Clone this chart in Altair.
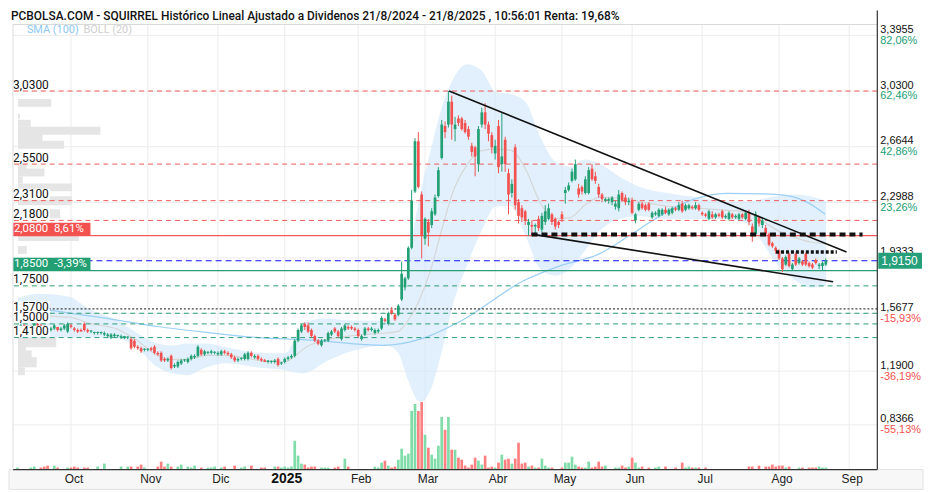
import altair as alt
import pandas as pd

# ---------------- daily candles (open, high, low, close); day 0 = 1-Oct-2024 ----------------
FIRST_DAY = -16
ohlc_sep = [
    (1.47, 1.49, 1.46, 1.48), (1.48, 1.50, 1.47, 1.49), (1.49, 1.50, 1.47, 1.48), (1.48, 1.49, 1.46, 1.47),
    (1.47, 1.49, 1.46, 1.48), (1.48, 1.51, 1.47, 1.50), (1.50, 1.51, 1.48, 1.49), (1.49, 1.50, 1.47, 1.48),
    (1.48, 1.49, 1.46, 1.47), (1.47, 1.48, 1.45, 1.46), (1.46, 1.48, 1.45, 1.47), (1.47, 1.50, 1.46, 1.49),
    (1.48, 1.48, 1.45, 1.46), (1.46, 1.48, 1.45, 1.47), (1.47, 1.50, 1.46, 1.49), (1.45, 1.51, 1.44, 1.50)]
ohlc_oct = [
    (1.49, 1.50, 1.47, 1.48), (1.47, 1.48, 1.45, 1.46), (1.46, 1.47, 1.44, 1.45), (1.46, 1.47, 1.45, 1.45),
    (1.50, 1.51, 1.45, 1.46), (1.46, 1.47, 1.44, 1.45), (1.45, 1.46, 1.44, 1.45), (1.44, 1.45, 1.43, 1.44),
    (1.44, 1.45, 1.43, 1.44), (1.44, 1.45, 1.43, 1.44), (1.43, 1.45, 1.42, 1.44), (1.42, 1.44, 1.41, 1.43),
    (1.41, 1.44, 1.40, 1.43), (1.42, 1.44, 1.41, 1.43), (1.42, 1.43, 1.41, 1.42), (1.41, 1.43, 1.40, 1.42),
    (1.41, 1.42, 1.40, 1.42), (1.41, 1.42, 1.40, 1.41), (1.40, 1.41, 1.33, 1.34), (1.39, 1.40, 1.34, 1.35),
    (1.35, 1.36, 1.33, 1.34), (1.34, 1.35, 1.31, 1.32), (1.33, 1.34, 1.32, 1.33)]
ohlc_nov = [
    (1.33, 1.34, 1.32, 1.33), (1.34, 1.35, 1.32, 1.33), (1.35, 1.36, 1.30, 1.31), (1.31, 1.32, 1.29, 1.30),
    (1.31, 1.32, 1.25, 1.26), (1.27, 1.28, 1.25, 1.26), (1.26, 1.28, 1.25, 1.27), (1.29, 1.30, 1.20, 1.21),
    (1.22, 1.24, 1.21, 1.23), (1.22, 1.26, 1.21, 1.25), (1.24, 1.27, 1.23, 1.26), (1.26, 1.27, 1.25, 1.26),
    (1.25, 1.28, 1.24, 1.27), (1.27, 1.30, 1.26, 1.29), (1.28, 1.30, 1.27, 1.29), (1.29, 1.36, 1.28, 1.35),
    (1.33, 1.34, 1.29, 1.30), (1.30, 1.33, 1.29, 1.32), (1.31, 1.32, 1.30, 1.31), (1.31, 1.33, 1.30, 1.32),
    (1.31, 1.32, 1.30, 1.31)]
ohlc_dec = [
    (1.30, 1.32, 1.29, 1.31), (1.30, 1.33, 1.29, 1.32), (1.32, 1.33, 1.30, 1.31), (1.31, 1.32, 1.29, 1.30),
    (1.30, 1.31, 1.27, 1.28), (1.28, 1.29, 1.25, 1.26), (1.26, 1.28, 1.25, 1.27), (1.27, 1.28, 1.26, 1.27),
    (1.27, 1.31, 1.26, 1.30), (1.27, 1.32, 1.26, 1.31), (1.31, 1.32, 1.28, 1.29), (1.28, 1.30, 1.27, 1.29),
    (1.29, 1.30, 1.26, 1.27), (1.27, 1.28, 1.25, 1.26), (1.26, 1.27, 1.25, 1.25), (1.25, 1.26, 1.24, 1.26),
    (1.25, 1.26, 1.24, 1.25), (1.25, 1.27, 1.24, 1.26), (1.27, 1.28, 1.22, 1.23), (1.24, 1.25, 1.23, 1.24)]
ohlc_jan = [
    (1.25, 1.28, 1.24, 1.27), (1.27, 1.29, 1.26, 1.28), (1.28, 1.30, 1.27, 1.29), (1.29, 1.40, 1.28, 1.39),
    (1.39, 1.47, 1.38, 1.46), (1.45, 1.50, 1.44, 1.49), (1.50, 1.51, 1.46, 1.48), (1.49, 1.51, 1.44, 1.45),
    (1.46, 1.47, 1.41, 1.42), (1.42, 1.43, 1.38, 1.39), (1.39, 1.40, 1.36, 1.37), (1.36, 1.40, 1.35, 1.39),
    (1.39, 1.40, 1.38, 1.39), (1.39, 1.45, 1.38, 1.44), (1.43, 1.46, 1.42, 1.45), (1.47, 1.48, 1.44, 1.45),
    (1.45, 1.46, 1.41, 1.42), (1.40, 1.48, 1.39, 1.47), (1.46, 1.50, 1.45, 1.49), (1.48, 1.49, 1.46, 1.47),
    (1.48, 1.49, 1.46, 1.47), (1.47, 1.48, 1.45, 1.46)]
ohlc_feb = [
    (1.46, 1.47, 1.41, 1.42), (1.40, 1.43, 1.39, 1.42), (1.43, 1.48, 1.42, 1.47), (1.47, 1.48, 1.45, 1.46),
    (1.46, 1.48, 1.45, 1.47), (1.44, 1.47, 1.43, 1.46), (1.45, 1.47, 1.44, 1.46), (1.47, 1.55, 1.46, 1.54),
    (1.53, 1.54, 1.51, 1.52), (1.50, 1.58, 1.49, 1.57), (1.59, 1.61, 1.56, 1.57), (1.56, 1.57, 1.52, 1.53),
    (1.56, 1.63, 1.55, 1.62), (1.66, 1.91, 1.65, 1.83), (1.74, 1.81, 1.72, 1.80), (1.80, 2.01, 1.79, 2.00),
    (2.00, 2.38, 1.99, 2.31), (2.37, 2.72, 2.36, 2.70), (2.70, 2.76, 2.39, 2.40), (2.35, 2.37, 1.93, 2.08)]
ohlc_mar = [
    (2.06, 2.20, 2.02, 2.19), (2.17, 2.19, 2.01, 2.10), (2.15, 2.26, 2.13, 2.24), (2.22, 2.35, 2.21, 2.33),
    (2.34, 2.53, 2.33, 2.51), (2.59, 2.84, 2.58, 2.81), (2.80, 2.83, 2.72, 2.76), (2.81, 3.03, 2.79, 2.96),
    (2.96, 3.00, 2.71, 2.81), (2.78, 2.86, 2.70, 2.81), (2.85, 2.87, 2.80, 2.82), (2.85, 2.86, 2.77, 2.78),
    (2.82, 2.84, 2.75, 2.76), (2.78, 2.80, 2.71, 2.73), (2.67, 2.69, 2.60, 2.63), (2.66, 2.67, 2.47, 2.60),
    (2.55, 2.80, 2.50, 2.78), (2.81, 2.92, 2.79, 2.89), (2.89, 2.95, 2.78, 2.81), (2.81, 2.83, 2.70, 2.75),
    (2.74, 2.76, 2.62, 2.66)]
ohlc_apr = [
    (2.62, 2.71, 2.58, 2.67), (2.80, 2.84, 2.49, 2.53), (2.55, 2.89, 2.50, 2.60), (2.71, 2.73, 2.50, 2.55),
    (2.49, 2.52, 2.22, 2.35), (2.36, 2.45, 2.33, 2.42), (2.66, 2.68, 2.25, 2.28), (2.30, 2.32, 2.16, 2.21),
    (2.26, 2.28, 2.17, 2.20), (2.24, 2.25, 2.15, 2.18), (2.15, 2.19, 2.08, 2.17), (2.15, 2.18, 2.08, 2.14),
    (2.14, 2.16, 2.09, 2.15), (2.19, 2.21, 2.11, 2.13), (2.12, 2.23, 2.10, 2.21), (2.17, 2.28, 2.15, 2.24),
    (2.19, 2.29, 2.18, 2.26), (2.22, 2.23, 2.15, 2.17), (2.19, 2.20, 2.12, 2.14), (2.17, 2.18, 2.13, 2.15)]
ohlc_may = [
    (2.22, 2.24, 2.17, 2.19), (2.36, 2.40, 2.29, 2.38), (2.38, 2.43, 2.37, 2.41), (2.44, 2.52, 2.43, 2.50),
    (2.45, 2.58, 2.44, 2.55), (2.39, 2.42, 2.33, 2.35), (2.40, 2.41, 2.35, 2.37), (2.36, 2.47, 2.35, 2.45),
    (2.36, 2.53, 2.35, 2.51), (2.52, 2.55, 2.44, 2.45), (2.47, 2.50, 2.42, 2.44), (2.40, 2.42, 2.33, 2.35),
    (2.35, 2.36, 2.30, 2.32), (2.31, 2.33, 2.30, 2.32), (2.31, 2.33, 2.29, 2.32), (2.30, 2.34, 2.28, 2.33),
    (2.27, 2.31, 2.25, 2.29), (2.26, 2.38, 2.24, 2.35), (2.36, 2.37, 2.30, 2.31), (2.33, 2.35, 2.28, 2.30),
    (2.30, 2.33, 2.28, 2.31)]
ohlc_jun = [
    (2.31, 2.33, 2.22, 2.23), (2.18, 2.23, 2.16, 2.22), (2.25, 2.30, 2.24, 2.29), (2.29, 2.30, 2.25, 2.26),
    (2.28, 2.29, 2.24, 2.25), (2.29, 2.30, 2.24, 2.25), (2.20, 2.24, 2.19, 2.23), (2.22, 2.24, 2.21, 2.23),
    (2.21, 2.26, 2.20, 2.25), (2.22, 2.26, 2.21, 2.25), (2.25, 2.27, 2.22, 2.23), (2.22, 2.26, 2.21, 2.25),
    (2.23, 2.27, 2.22, 2.26), (2.26, 2.27, 2.24, 2.25), (2.25, 2.30, 2.24, 2.28), (2.29, 2.31, 2.23, 2.24),
    (2.25, 2.29, 2.24, 2.28), (2.26, 2.29, 2.25, 2.28), (2.27, 2.28, 2.25, 2.26), (2.26, 2.30, 2.25, 2.28),
    (2.28, 2.29, 2.24, 2.25)]
ohlc_jul = [
    (2.23, 2.24, 2.21, 2.22), (2.22, 2.23, 2.20, 2.21), (2.19, 2.25, 2.18, 2.24), (2.22, 2.24, 2.19, 2.20),
    (2.20, 2.23, 2.19, 2.22), (2.22, 2.23, 2.20, 2.21), (2.24, 2.25, 2.19, 2.20), (2.20, 2.22, 2.19, 2.21),
    (2.19, 2.24, 2.18, 2.23), (2.22, 2.23, 2.19, 2.20), (2.20, 2.22, 2.19, 2.21), (2.19, 2.23, 2.18, 2.22),
    (2.22, 2.23, 2.19, 2.20), (2.19, 2.24, 2.18, 2.23), (2.23, 2.25, 2.15, 2.17), (2.14, 2.16, 2.04, 2.08),
    (2.09, 2.24, 2.08, 2.22), (2.20, 2.21, 2.14, 2.16), (2.15, 2.20, 2.13, 2.18), (2.13, 2.15, 2.08, 2.09),
    (2.09, 2.10, 2.01, 2.02), (2.03, 2.04, 2.00, 2.01), (2.00, 2.01, 1.96, 1.98)]
ohlc_aug = [
    (1.98, 1.99, 1.92, 1.93), (1.93, 1.94, 1.84, 1.86), (1.89, 1.95, 1.88, 1.94), (1.96, 1.97, 1.87, 1.88),
    (1.86, 1.90, 1.85, 1.89), (1.96, 1.97, 1.88, 1.89), (1.90, 1.94, 1.89, 1.93), (1.91, 1.92, 1.88, 1.89),
    (1.96, 1.97, 1.88, 1.89), (1.90, 1.91, 1.87, 1.88), (1.89, 1.90, 1.86, 1.87), (1.92, 1.93, 1.89, 1.90),
    (1.88, 1.90, 1.86, 1.89), (1.88, 1.91, 1.85, 1.90), (1.89, 1.93, 1.88, 1.915)]

# ---------------- daily volume (relative units) ----------------
vol_sep = [2, 0, 0, 0, 2, 3, 0, 2, 3, 4, 0, 4, 2, 0, 0, 2]
vol_oct = [2, 3, 2, 0, 2, 2, 0, 0, 3, 0, 6, 0, 0, 0, 0, 3, 0, 3, 3, 0, 3, 5, 2]
vol_nov = [0, 0, 0, 3, 8, 3, 6, 3, 0, 3, 5, 0, 3, 2, 4, 0, 2, 0, 2, 2, 3]
vol_dec = [0, 2, 3, 0, 0, 4, 0, 2, 3, 0, 4, 0, 0, 2, 2, 0, 0, 3, 3, 2]
vol_jan = [3, 2, 3, 29, 14, 6, 5, 2, 3, 3, 0, 2, 2, 2, 0, 2, 3, 0, 11, 3, 0, 0]
vol_feb = [0, 0, 0, 0, 0, 3, 2, 7, 9, 4, 2, 3, 10, 21, 14, 16, 59, 66, 59, 68]
vol_mar = [35, 22, 15, 11, 24, 53, 40, 53, 20, 20, 12, 10, 4, 2, 5, 12, 9, 5, 14, 2, 3]
vol_apr = [2, 7, 15, 10, 11, 6, 11, 27, 6, 7, 3, 4, 2, 2, 11, 4, 2, 2, 0, 0]
vol_may = [2, 7, 7, 13, 5, 3, 2, 2, 8, 2, 3, 8, 3, 4, 0, 0, 2, 2, 4, 2, 3]
vol_jun = [12, 7, 2, 3, 0, 2, 0, 2, 3, 0, 3, 0, 0, 2, 0, 7, 2, 3, 2, 2, 2]
vol_jul = [0, 2, 0, 0, 0, 0, 0, 0, 0, 0, 0, 0, 0, 0, 3, 3, 0, 4, 0, 3, 3, 5, 3]
vol_aug = [4, 4, 2, 3, 0, 0, 2, 2, 0, 2, 2, 2, 3, 2, 2]

# ---------------- indicators ----------------
boll_day = [-15.9, -9.4, -0.6, 5.3, 14.1, 20.0, 25.9, 30.3, 34.7, 40.6, 46.5, 55.3, 64.1, 67.0, 70.0,
            75.9, 84.7, 94.4, 97.9, 100.9, 104.4, 107.6, 111.1, 114.7, 118.5, 122.9, 127.3, 131.7,
            136.1, 140.5, 145.0, 149.4, 153.8, 158.2, 164.1, 170.0, 178.8, 187.6, 196.4, 202.3,
            206.7, 211.1, 217.0, 221.4, 226.1]
boll_upper = [1.672, 1.698, 1.679, 1.600, 1.522, 1.437, 1.372, 1.359, 1.372, 1.372, 1.346, 1.313, 1.307,
              1.392, 1.509, 1.535, 1.522, 1.522, 1.587, 1.914, 2.338, 2.632, 2.926, 3.121, 3.206, 3.167,
              3.023, 3.010, 2.958, 2.730, 2.567, 2.534, 2.580, 2.554, 2.469, 2.403, 2.358, 2.332, 2.305,
              2.305, 2.319, 2.338, 2.351, 2.338, 2.305]
boll_lower = [1.392, 1.405, 1.411, 1.411, 1.405, 1.339, 1.215, 1.176, 1.163, 1.215, 1.241, 1.215, 1.196,
              1.183, 1.176, 1.248, 1.326, 1.359, 1.313, 1.131, 0.987, 1.065, 1.326, 1.653, 1.881, 2.110,
              2.273, 2.273, 2.077, 1.862, 1.816, 1.862, 1.979, 2.110, 2.188, 2.208, 2.188, 2.188, 2.188,
              2.162, 2.044, 1.901, 1.783, 1.738, 1.751]
sma_day = [-15.9, -5.6, 11.2, 25.9, 40.6, 55.3, 72.9, 93.5, 105.3, 117.0, 135.5, 146.4, 158.2, 167.0,
           173.8, 184.7, 196.4, 211.1, 219.9, 225.8]
sma_100 = [1.620, 1.587, 1.535, 1.483, 1.444, 1.411, 1.392, 1.359, 1.405, 1.522, 1.783, 1.881, 1.960,
           2.077, 2.175, 2.305, 2.358, 2.351, 2.305, 2.221]

# volume-at-price profile (left edge)
profile_high = [2.978, 2.880, 2.841, 2.795, 2.749, 2.704, 2.553, 2.521, 2.469, 2.423, 2.338, 2.253,
                2.077, 2.012, 1.411, 1.372, 1.326, 1.281, 1.215]
profile_low = [2.926, 2.847, 2.795, 2.743, 2.697, 2.651, 2.514, 2.469, 2.423, 2.371, 2.279, 2.195,
               2.044, 1.960, 1.346, 1.313, 1.274, 1.215, 1.163]
profile_vol = [34, 2, 13, 84, 25, 47, 9, 27, 5, 55, 55, 43, 62, 9, 39, 8, 14, 19, 7]

# price levels
red_dashed = [3.03, 2.55, 2.31, 2.18]
red_solid = [2.08]
blue_dashed = [1.915]
green_solid = [1.85]
green_dashed = [1.75, 1.57, 1.50, 1.41]
black_dotted = [1.5986]
left_levels = [3.03, 2.55, 2.31, 2.18, 1.75, 1.57, 1.50, 1.41]
left_texts = ["3,0300", "2,5500", "2,3100", "2,1800", "1,7500", "1,5700", "1,5000", "1,4100"]

# trend lines (day, price) -> (day, price)
trend_d1 = [113.2, 137.9]
trend_p1 = [3.03, 2.09]
trend_d2 = [232.2, 228.2]
trend_p2 = [1.9726, 1.777]

# right axis
right_vals = [3.3955, 3.0300, 2.6644, 2.2988, 1.9333, 1.5677, 1.1900, 0.8366]
right_txt = ["3,3955", "3,0300", "2,6644", "2,2988", "1,9333", "1,5677", "1,1900", "0,8366"]
right_pct = ["82,06%", "62,46%", "42,86%", "23,26%", "", "-15,93%", "-36,19%", "-55,13%"]

month_days = [0, 23, 44, 64, 86, 106, 127, 147, 168, 189, 212, 233]
month_names = ["Oct", "Nov", "Dic", "2025", "Feb", "Mar", "Abr", "May", "Jun", "Jul", "Ago", "Sep"]

TITLE = ("PCBOLSA.COM - SQUIRREL Histórico Lineal Ajustado a Dividenos 21/8/2024 - 21/8/2025 , "
         "10:56:01 Renta: 19,68%")

# ---------------- layout ----------------
W, H = 870, 462
X_LEFT, X_RIGHT = -15.88, 239.93
P_BOTTOM, P_TOP = 0.5431, 3.5587
PXP = H / (P_TOP - P_BOTTOM)     # pixels per price unit
PXD = W / (X_RIGHT - X_LEFT)     # pixels per trading day

GREEN = "#22a074"
RED = "#f3514f"
FONT = "Liberation Sans"
FONT2 = "Roboto"

xs = alt.Scale(domain=[X_LEFT, X_RIGHT], nice=False, zero=False)
ys = alt.Scale(domain=[P_BOTTOM, P_TOP], nice=False, zero=False)


def X(f):
    return alt.X(f, type="quantitative", scale=xs, axis=None)


def Y(f):
    return alt.Y(f, type="quantitative", scale=ys, axis=None)


ohlc = (ohlc_sep + ohlc_oct + ohlc_nov + ohlc_dec + ohlc_jan + ohlc_feb + ohlc_mar + ohlc_apr
        + ohlc_may + ohlc_jun + ohlc_jul + ohlc_aug)
vols = (vol_sep + vol_oct + vol_nov + vol_dec + vol_jan + vol_feb + vol_mar + vol_apr
        + vol_may + vol_jun + vol_jul + vol_aug)
candles = pd.DataFrame({
    "day": list(range(FIRST_DAY, FIRST_DAY + len(ohlc))),
    "open": [r[0] for r in ohlc],
    "high": [r[1] for r in ohlc],
    "low": [r[2] for r in ohlc],
    "close": [r[3] for r in ohlc],
    "vol": vols,
})

one = pd.DataFrame({"k": [0]})
layers = []

# grid
layers.append(alt.Chart(pd.DataFrame({"day": month_days})).mark_rule(color="#ececec").encode(x=X("day")))
layers.append(alt.Chart(pd.DataFrame({"p": right_vals})).mark_rule(color="#ececec").encode(y=Y("p")))

# bollinger band + middle + sma
boll = alt.Chart(pd.DataFrame({"day": boll_day, "upper": boll_upper, "lower": boll_lower}))
layers.append(boll.mark_area(color="#cfe7fa", opacity=0.62, interpolate="monotone").encode(
    x=X("day"), y=Y("upper"), y2="lower"))
layers.append(boll.transform_calculate(mid="(datum.upper + datum.lower) / 2").mark_line(
    color="#d6d6d6", strokeWidth=1.2, interpolate="monotone").encode(x=X("day"), y=Y("mid")))
layers.append(alt.Chart(pd.DataFrame({"day": sma_day, "sma": sma_100})).mark_line(
    color="#9ccff5", strokeWidth=1.2, interpolate="monotone").encode(x=X("day"), y=Y("sma")))

# volume profile
layers.append(alt.Chart(pd.DataFrame({"ph": profile_high, "pl": profile_low, "v": profile_vol}))
              .transform_calculate(x0=str(X_LEFT), x1=f"{X_LEFT} + datum.v / {PXD}")
              .mark_rect(color="#e5e5e5").encode(x=X("x0"), x2="x1:Q", y=Y("pl"), y2="ph"))

# volume bars
vbase = alt.Chart(candles).transform_calculate(v0=str(P_BOTTOM), v1=f"{P_BOTTOM} + datum.vol / {PXP}")
layers.append(vbase.transform_filter("datum.close >= datum.open").mark_bar(size=2.7, color="#80dca9")
              .encode(x=X("day"), y=Y("v0:Q"), y2="v1:Q"))
layers.append(vbase.transform_filter("datum.close < datum.open").mark_bar(size=2.7, color="#ff8080")
              .encode(x=X("day"), y=Y("v0:Q"), y2="v1:Q"))


def hlines(vals, color, width=1.0, dash=None):
    kw = dict(color=color, strokeWidth=width)
    if dash:
        kw["strokeDash"] = dash
    return alt.Chart(pd.DataFrame({"p": vals})).mark_rule(**kw).encode(y=Y("p"))


layers.append(hlines(red_dashed, "#f25a5a", 1, [5, 4]))
layers.append(hlines(red_solid, "#f25a5a", 1.3))
layers.append(hlines(green_dashed, "#2a9d74", 1, [5, 4]))
layers.append(hlines(green_solid, "#2a9d74", 1.3))
layers.append(hlines(blue_dashed, "#1010ff", 1.2, [6, 4]))
layers.append(hlines(black_dotted, "#111111", 1, [2, 2]))

# candles
cb = alt.Chart(candles).transform_calculate(
    body_end="abs(datum.close - datum.open) < 0.006 ? datum.open + 0.007 : datum.close")
for cond, col in (("datum.close >= datum.open", GREEN), ("datum.close < datum.open", RED)):
    layers.append(cb.transform_filter(cond).mark_rule(color=col, strokeWidth=1).encode(
        x=X("day"), y=Y("low"), y2="high"))
    layers.append(cb.transform_filter(cond).mark_bar(size=2.7, color=col).encode(
        x=X("day"), y=Y("open"), y2="body_end:Q"))

# trend lines and drawn levels
layers.append(alt.Chart(pd.DataFrame({"d1": trend_d1, "p1": trend_p1, "d2": trend_d2, "p2": trend_p2}))
              .mark_rule(color="#111111", strokeWidth=1.6)
              .encode(x=X("d1"), y=Y("p1"), x2="d2", y2="p2"))
layers.append(alt.Chart(pd.DataFrame({"d1": [137.9], "d2": [237.0], "p": [2.087]}))
              .mark_rule(color="#111111", strokeWidth=4, strokeDash=[6, 4])
              .encode(x=X("d1"), x2="d2", y=Y("p")))
layers.append(alt.Chart(pd.DataFrame({"d1": [211.1], "d2": [229.3], "p": [1.973]}))
              .mark_rule(color="#111111", strokeWidth=3.5, strokeDash=[3, 2])
              .encode(x=X("d1"), x2="d2", y=Y("p")))

# title band
layers.append(alt.Chart(one).mark_rect(color="white").encode(
    x=alt.value(0), x2=alt.value(W), y=alt.value(0), y2=alt.value(14)))
layers.append(alt.Chart(one).mark_rule(color="#d8d8d8").encode(
    x=alt.value(0), x2=alt.value(W), y=alt.value(14)))
layers.append(alt.Chart(pd.DataFrame({"t": [TITLE]})).mark_text(
    align="left", baseline="top", font=FONT2, fontSize=12, fontWeight=500, color="#111111").encode(
    x=alt.value(-2), y=alt.value(0), text="t:N"))
layers.append(alt.Chart(pd.DataFrame({"t": ["SMA (100)"]})).mark_text(
    align="left", baseline="middle", font=FONT2, fontSize=11, color="#8ec8f2").encode(
    x=alt.value(14), y=alt.value(20), text="t:N"))
layers.append(alt.Chart(pd.DataFrame({"t": ["BOLL (20)"]})).mark_text(
    align="left", baseline="middle", font=FONT2, fontSize=11, color="#cfcfcf").encode(
    x=alt.value(71), y=alt.value(20), text="t:N"))

# left level labels
lab = alt.Chart(pd.DataFrame({"p": left_levels, "t": left_texts})).transform_calculate(
    top=f"datum.p + 12 / {PXP}", bot=f"datum.p + 1 / {PXP}")
layers.append(lab.mark_rect(color="white").encode(x=alt.value(0), x2=alt.value(37), y=Y("top:Q"), y2="bot:Q"))
layers.append(lab.mark_text(align="left", baseline="middle", font=FONT2, fontSize=12, dy=-6.5,
                            color="#111111").encode(x=alt.value(0), y=Y("p"), text="t:N"))

tag = alt.Chart(pd.DataFrame({"p": [2.08, 1.85], "t": ["2,0800\u00a0\u00a08,61%", "1,8500\u00a0\u00a0-3,39%"],
                              "c": [RED, GREEN]})).transform_calculate(
    top=f"datum.p + 13 / {PXP}", bot="datum.p")
layers.append(tag.mark_rect().encode(x=alt.value(0), x2=alt.value(78), y=Y("top:Q"), y2="bot:Q",
                                     color=alt.Color("c:N", scale=None)))
layers.append(tag.mark_text(align="left", baseline="middle", font=FONT2, fontSize=11.5, dy=-6.5,
                            color="white").encode(x=alt.value(1), y=Y("p"), text="t:N"))

# right axis labels
ra = alt.Chart(pd.DataFrame({"p": right_vals, "t": right_txt, "pc": right_pct,
                             "c": [GREEN] * 4 + [GREEN] + [RED] * 3}))
layers.append(ra.mark_text(align="left", baseline="middle", font=FONT, fontSize=11, dy=-5.5,
                           color="#111111").encode(x=alt.value(W + 3), y=Y("p"), text="t:N"))
layers.append(ra.mark_text(align="left", baseline="middle", font=FONT, fontSize=11, dy=5.5).encode(
    x=alt.value(W + 3), y=Y("p"), text="pc:N", color=alt.Color("c:N", scale=None)))
cur = alt.Chart(pd.DataFrame({"p": [1.915], "t": ["1,9150"]})).transform_calculate(
    top=f"datum.p + 8 / {PXP}", bot=f"datum.p - 8 / {PXP}")
layers.append(cur.mark_rect(color="#26a07a").encode(x=alt.value(W + 1), x2=alt.value(W + 45),
                                                    y=Y("top:Q"), y2="bot:Q"))
layers.append(cur.mark_text(align="left", baseline="middle", font=FONT, fontSize=12, color="white").encode(
    x=alt.value(W + 4), y=Y("p"), text="t:N"))

# bottom band with month labels and borders
layers.append(alt.Chart(one).mark_rect(color="#f7f7f7", stroke="#e2e2e2").encode(
    x=alt.value(-4), x2=alt.value(W + 46), y=alt.value(H), y2=alt.value(H + 20)))
mon = alt.Chart(pd.DataFrame({"day": month_days, "t": month_names}))
layers.append(mon.transform_filter("datum.t != '2025'").mark_text(
    align="center", baseline="middle", font=FONT, fontSize=12, color="#222222", dx=3).encode(
    x=X("day"), y=alt.value(H + 10), text="t:N"))
layers.append(mon.transform_filter("datum.t == '2025'").mark_text(
    align="center", baseline="middle", font=FONT, fontSize=14, fontWeight="bold", color="#111111", dx=2).encode(
    x=X("day"), y=alt.value(H + 10), text="t:N"))
layers.append(alt.Chart(one).mark_rule(color="#333333", strokeWidth=1.2).encode(
    x=alt.value(W), y=alt.value(0), y2=alt.value(H)))
layers.append(alt.Chart(one).mark_rule(color="#333333", strokeWidth=1.2).encode(
    x=alt.value(0), x2=alt.value(W), y=alt.value(H)))
layers.append(alt.Chart(one).mark_rule(color="#dddddd").encode(
    x=alt.value(0), y=alt.value(14), y2=alt.value(H)))

chart = alt.layer(*layers).properties(
    width=W, height=H, padding={"left": 0, "top": 0, "right": 0, "bottom": 0},
    autosize=alt.AutoSizeParams(type="pad"), background="white",
).configure_view(stroke=None)

chart.save("out.html", embed_options={"renderer": "svg", "actions": False})
